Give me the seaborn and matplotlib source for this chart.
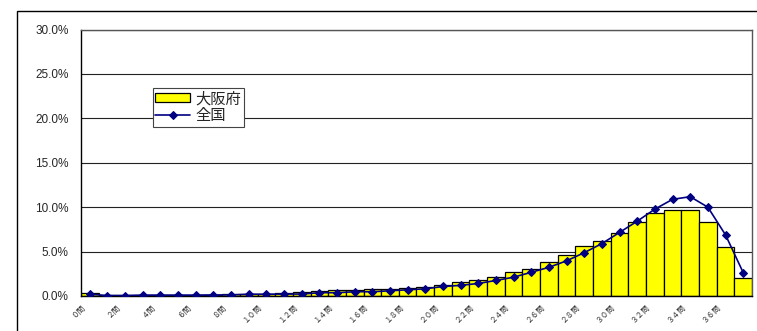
import numpy as np
import pandas as pd
import matplotlib
matplotlib.use("Agg")
import matplotlib.pyplot as plt
import matplotlib.transforms as mtransforms
from matplotlib.patches import Rectangle
import seaborn as sns

# Share of test takers by number of correct answers (0-37), in percent
questions = list(range(38))
osaka_pct = [0.35, 0.08, 0.08, 0.10, 0.12, 0.12, 0.15, 0.15, 0.20, 0.22,
             0.25, 0.35, 0.45, 0.55, 0.62, 0.68, 0.78, 0.80, 0.90, 0.98,
             1.22, 1.62, 1.82, 2.12, 2.67, 3.04, 3.85, 4.66, 5.58, 6.17,
             7.10, 8.34, 9.34, 9.70, 9.63, 8.34, 5.51, 2.02]
national_pct = [0.20, 0.05, 0.05, 0.10, 0.10, 0.10, 0.10, 0.12, 0.12, 0.20,
                0.20, 0.22, 0.22, 0.37, 0.37, 0.48, 0.48, 0.59, 0.70, 0.81,
                1.07, 1.20, 1.41, 1.75, 2.12, 2.67, 3.23, 3.96, 4.88, 5.90,
                7.16, 8.42, 9.78, 10.88, 11.18, 10.00, 6.88, 2.64]
tick_positions = list(range(0, 38, 2))
tick_labels = ["０問", "２問", "４問", "６問", "８問", "１０問", "１２問", "１４問",
               "１６問", "１８問", "２０問", "２２問", "２４問", "２６問", "２８問",
               "３０問", "３２問", "３４問", "３６問"]
y_ticks = [0, 5, 10, 15, 20, 25, 30]

df = pd.DataFrame({"q": questions, "osaka": osaka_pct, "national": national_pct})

sns.set_style("white")
plt.rcParams["font.family"] = ["Liberation Sans", "Noto Sans CJK JP", "DejaVu Sans"]

W, H = 757, 331
fig = plt.figure(figsize=(W / 100, H / 100), dpi=100)
ax = fig.add_axes([81 / W, 1 - 296 / H, (752 - 81) / W, (296 - 29.5) / H])

sns.barplot(data=df, x="q", y="osaka", color="#FFFF00", saturation=1,
            edgecolor="black", linewidth=0.9, width=1.0, ax=ax,
            label="大阪府", zorder=2)
sns.lineplot(x=np.array(questions), y=df["national"].to_numpy(), color="#000080",
             marker="D", markersize=4.5, markeredgecolor="#000080",
             linewidth=1.2, ax=ax, label="全国", zorder=3)

ax.set_xlim(-0.5, 37.5)
ax.set_ylim(0, 30)
ax.set_yticks(y_ticks)
ax.set_yticklabels([f"{v:.1f}%" for v in y_ticks], fontsize=8.5,
                   family=["Liberation Sans"])
ax.tick_params(axis="y", length=0, pad=9)
ax.yaxis.grid(True, color="#222222", linewidth=0.8, zorder=0)
ax.set_axisbelow(True)
ax.set_xlabel("")
ax.set_ylabel("")

ax.set_xticks(tick_positions)
ax.set_xticklabels(tick_labels, rotation=45, ha="right", va="center",
                   rotation_mode="anchor", fontsize=5.5, color="#333333",
                   family=["Noto Sans CJK JP"])
ax.tick_params(axis="x", length=0, pad=7)
shift = mtransforms.ScaledTranslation(-6 / 100, 0, fig.dpi_scale_trans)
for lbl in ax.get_xticklabels():
    lbl.set_transform(lbl.get_transform() + shift)

for side in ("left", "bottom"):
    ax.spines[side].set_color("black")
    ax.spines[side].set_linewidth(1.0)
for side in ("top", "right"):
    ax.spines[side].set_color("#555555")
    ax.spines[side].set_linewidth(1.0)

# bars first, then the national line
handles, labels = ax.get_legend_handles_labels()
order = [labels.index("大阪府"), labels.index("全国")]
leg = ax.legend([handles[i] for i in order], [labels[i] for i in order],
                loc="upper left", bbox_to_anchor=(153 / W, 1 - 88 / H),
                bbox_transform=fig.transFigure, borderaxespad=0,
                frameon=True, fancybox=False, framealpha=1, edgecolor="#444444",
                prop={"family": ["Noto Sans CJK JP"], "size": 11},
                handlelength=2.3, handleheight=0.55, handletextpad=0.35,
                labelspacing=0.0, borderpad=0.15)
leg.get_frame().set_linewidth(0.8)

# outer chart frame
fig.add_artist(Rectangle((17 / W, -0.2), 1.2, (H - 11) / H + 0.2,
                         transform=fig.transFigure, fill=False,
                         edgecolor="black", linewidth=1.0))

fig.savefig("out.png", dpi=100)
